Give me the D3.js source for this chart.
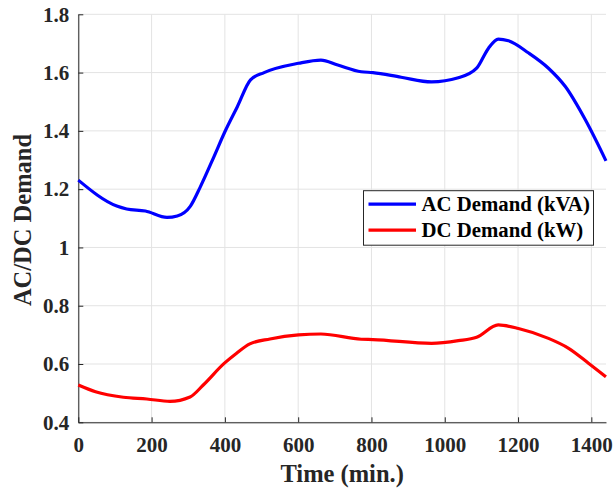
<!DOCTYPE html>
<html>
<head>
<meta charset="utf-8">
<script src="https://cdn.jsdelivr.net/npm/d3@7"></script>
<style>
  body { margin: 0; background: #fff; }
  svg { display: block; font-family: "Liberation Serif", "Times New Roman", serif; font-weight: bold; }
</style>
</head>
<body>
<svg width="616" height="489"></svg>
<script>
// time in minutes, demand values
var acTime = [0, 105, 132, 183, 242, 270, 306, 333, 370, 400, 434, 470, 507, 601, 662, 708, 772, 804, 881, 964, 1037, 1087, 1119, 1146, 1174, 1228, 1283, 1329, 1384, 1440];
var acDemand = [1.231, 1.142, 1.132, 1.125, 1.103, 1.108, 1.142, 1.208, 1.311, 1.397, 1.483, 1.575, 1.600, 1.632, 1.643, 1.626, 1.603, 1.600, 1.584, 1.568, 1.582, 1.615, 1.683, 1.715, 1.709, 1.668, 1.615, 1.552, 1.437, 1.297];

var dcTime = [0, 47, 123, 187, 250, 305, 341, 398, 432, 468, 523, 601, 662, 772, 804, 964, 1037, 1087, 1146, 1201, 1283, 1338, 1393, 1440];
var dcDemand = [0.528, 0.505, 0.486, 0.480, 0.472, 0.487, 0.528, 0.602, 0.637, 0.669, 0.686, 0.700, 0.703, 0.685, 0.684, 0.671, 0.680, 0.692, 0.734, 0.722, 0.688, 0.654, 0.602, 0.556];

var xTicks = [0, 200, 400, 600, 800, 1000, 1200, 1400];
var yTicks = [0.4, 0.6, 0.8, 1.0, 1.2, 1.4, 1.6, 1.8];
var yTickLabels = ["0.4", "0.6", "0.8", "1", "1.2", "1.4", "1.6", "1.8"];

var seriesNames = ["AC Demand (kVA)", "DC Demand (kW)"];
var seriesColors = ["#0000ff", "#ff0000"];

var svg = d3.select("svg");
var plotL = 78.3, plotR = 606, plotT = 14.3, plotB = 422.3;

var x = d3.scaleLinear().domain([0, 1440]).range([plotL, plotR]);
var y = d3.scaleLinear().domain([0.4, 1.8]).range([plotB, plotT]);

// grid
var grid = svg.append("g").attr("stroke", "#e3e3e3").attr("stroke-width", 1);
grid.selectAll(".gx")
  .data(xTicks)
  .enter()
  .append("line")
  .attr("x1", function (d) { return x(d); })
  .attr("x2", function (d) { return x(d); })
  .attr("y1", plotT)
  .attr("y2", plotB);
grid.selectAll(".gy")
  .data(yTicks)
  .enter()
  .append("line")
  .attr("x1", plotL)
  .attr("x2", plotR)
  .attr("y1", function (d) { return y(d); })
  .attr("y2", function (d) { return y(d); });

// axes, ticks pointing inward like matlab
var xAxis = d3.axisBottom(x).tickValues(xTicks).tickSizeInner(-5).tickSizeOuter(0).tickPadding(14)
  .tickFormat(d3.format("d"));
var yAxis = d3.axisLeft(y).tickValues(yTicks).tickSizeInner(-5).tickSizeOuter(0).tickPadding(9)
  .tickFormat(function (d, i) { return yTickLabels[i]; });

var gx = svg.append("g").attr("transform", "translate(0," + plotB + ")").call(xAxis);
var gy = svg.append("g").attr("transform", "translate(" + plotL + ",0)").call(yAxis);

[gx, gy].forEach(function (g) {
  g.attr("font-family", "Liberation Serif").attr("font-size", 21).attr("font-weight", "bold");
  g.selectAll("path.domain").attr("stroke", "#262626").attr("stroke-width", 1);
  g.selectAll(".tick line").attr("stroke", "#262626");
  g.selectAll(".tick text").attr("fill", "#262626");
});
gx.selectAll(".tick text").attr("dy", null).attr("y", 29.4);

// lines
var line = d3.line()
  .x(function (d) { return x(d[0]); })
  .y(function (d) { return y(d[1]); })
  .curve(d3.curveMonotoneX);

var series = [
  d3.zip(acTime, acDemand),
  d3.zip(dcTime, dcDemand)
];

svg.selectAll(".series")
  .data(series)
  .enter()
  .append("path")
  .attr("fill", "none")
  .attr("stroke", function (d, i) { return seriesColors[i]; })
  .attr("stroke-width", 3.2)
  .attr("stroke-linejoin", "round")
  .attr("d", line);

// axis titles
svg.append("text")
  .attr("x", (plotL + plotR) / 2)
  .attr("y", 481.5)
  .attr("text-anchor", "middle")
  .attr("fill", "#262626")
  .style("font-size", "24.5px")
  .text("Time (min.)");

svg.append("text")
  .attr("transform", "translate(31,220) rotate(-90)")
  .attr("text-anchor", "middle")
  .attr("fill", "#262626")
  .style("font-size", "24.5px")
  .text("AC/DC Demand");

// legend
var legend = svg.append("g").attr("transform", "translate(363.5,190.7)");
legend.append("rect")
  .attr("width", 230)
  .attr("height", 54.5)
  .attr("fill", "#fff")
  .attr("stroke", "#262626")
  .attr("stroke-width", 1);

var item = legend.selectAll(".item")
  .data(seriesNames)
  .enter()
  .append("g")
  .attr("transform", function (d, i) { return "translate(0," + (13.5 + i * 26) + ")"; });
item.append("line")
  .attr("x1", 5)
  .attr("x2", 52.5)
  .attr("stroke", function (d, i) { return seriesColors[i]; })
  .attr("stroke-width", 3.2);
item.append("text")
  .attr("x", 58)
  .attr("dy", "0.34em")
  .attr("fill", "#000")
  .style("font-size", "20.8px")
  .text(function (d) { return d; });
</script>
</body>
</html>
